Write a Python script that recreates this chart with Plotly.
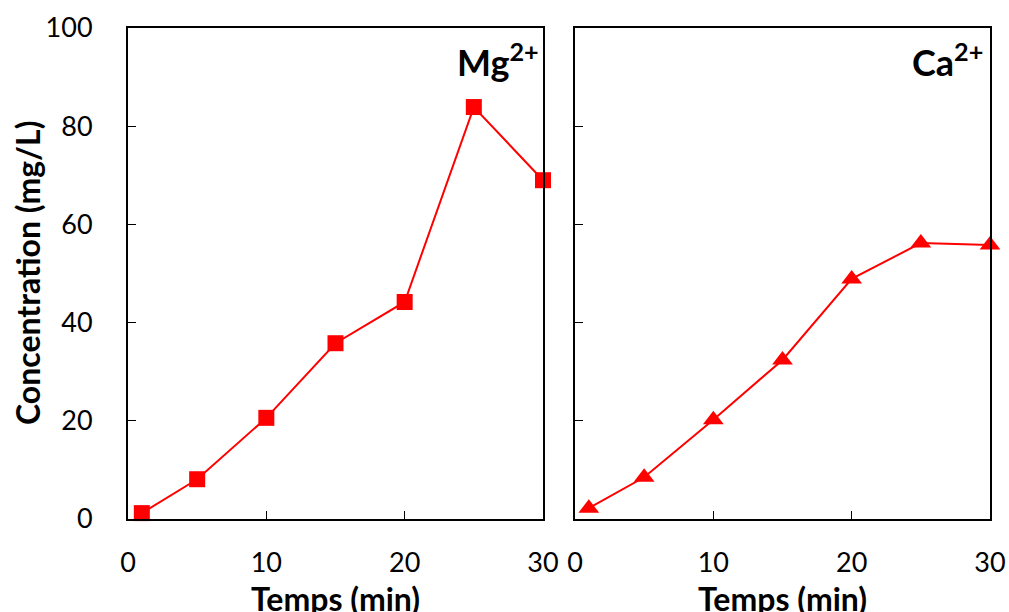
import plotly.graph_objects as go

time_mg = [1, 5, 10, 15, 20, 25, 30]
conc_mg = [1.2, 8.1, 20.6, 35.8, 44.2, 83.9, 69.0]
time_ca = [1, 5, 10, 15, 20, 25, 30]
conc_ca = [2.2, 8.5, 20.2, 32.4, 48.9, 56.2, 55.8]
x_ticks = [0, 10, 20, 30]
y_ticks = [0, 20, 40, 60, 80, 100]

FONT = "Lato, Open Sans, sans-serif"
W, H = 1009, 612
L, R, T, B = 128, 19, 28, 93
PW = W - L - R
PH = H - T - B


def px(xp):
    return (xp - L) / PW


def py(yp):
    return (H - B - yp) / PH


fig = go.Figure()
fig.add_trace(go.Scatter(x=time_mg, y=conc_mg, mode="lines+markers",
                         line=dict(color="#ff0000", width=2),
                         marker=dict(symbol="square", size=16, color="#ff0000"),
                         cliponaxis=False, xaxis="x", yaxis="y", showlegend=False))
fig.add_trace(go.Scatter(x=time_ca, y=conc_ca, mode="lines+markers",
                         line=dict(color="#ff0000", width=2),
                         marker=dict(symbol="triangle-up", size=18, color="#ff0000"),
                         cliponaxis=False, xaxis="x2", yaxis="y2", showlegend=False))

axis_common = dict(showline=True, linecolor="black", linewidth=2, mirror=True,
                   ticks="inside", ticklen=8, tickcolor="black", tickwidth=1,
                   showgrid=False, zeroline=False, automargin=False,
                   tickfont=dict(family=FONT, size=27, color="black"))

fig.update_layout(
    width=W, height=H,
    margin=dict(l=L, r=R, t=T, b=B, autoexpand=False),
    paper_bgcolor="white", plot_bgcolor="white",
    xaxis=dict(domain=[0, 415 / PW], range=[0, 30], tickvals=x_ticks,
               ticklabelstandoff=19, anchor="y", **axis_common),
    yaxis=dict(domain=[0, 1], range=[0, 100], tickvals=y_ticks,
               ticklabelstandoff=28, anchor="x", **axis_common),
    xaxis2=dict(domain=[447 / PW, 1], range=[0, 30], tickvals=x_ticks,
                ticklabelstandoff=19, anchor="y2", **axis_common),
    yaxis2=dict(domain=[0, 1], range=[0, 100], tickvals=y_ticks,
                showticklabels=False, anchor="x2", **axis_common),
)

title_font = dict(family=FONT, size=32, color="black", weight="bold")
fig.add_annotation(x=px((128 + 543) / 2), y=py(598), xref="paper", yref="paper",
                   text="Temps (min)", showarrow=False, font=title_font,
                   xanchor="center", yanchor="middle")
fig.add_annotation(x=px((575 + 990) / 2), y=py(598), xref="paper", yref="paper",
                   text="Temps (min)", showarrow=False, font=title_font,
                   xanchor="center", yanchor="middle")
fig.add_annotation(x=px(27), y=py(273), xref="paper", yref="paper",
                   text="Concentration (mg/L)", showarrow=False, font=title_font,
                   textangle=-90, xanchor="center", yanchor="middle")

label_font = dict(family=FONT, size=36, color="black", weight="bold")
fig.add_annotation(x=px(541), y=py(60), xref="paper", yref="paper",
                   text="Mg<sup>2+</sup>", showarrow=False, font=label_font,
                   xanchor="right", yanchor="middle")
fig.add_annotation(x=px(985), y=py(60), xref="paper", yref="paper",
                   text="Ca<sup>2+</sup>", showarrow=False, font=label_font,
                   xanchor="right", yanchor="middle")

fig.write_html("out.html", config={"displayModeBar": False},
               post_script="document.body.style.margin='0';")
